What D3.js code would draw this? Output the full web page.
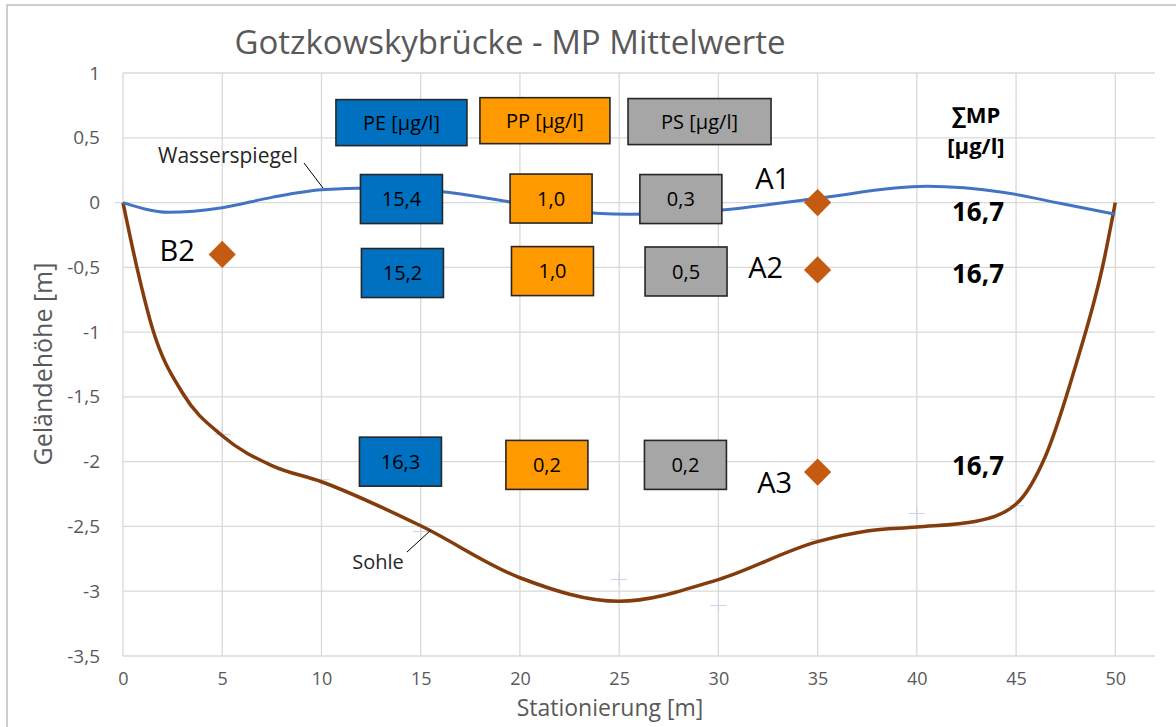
<!DOCTYPE html>
<html>
<head>
<meta charset="utf-8">
<script src="https://cdn.jsdelivr.net/npm/d3@7"></script>
<style>
  html, body { margin: 0; padding: 0; background: #fff; }
  svg { display: block; font-family: "Open Sans", "Noto Sans", sans-serif; }
</style>
</head>
<body>
<svg id="chart" width="1176" height="727"></svg>
<script>
// ---------------- data ----------------
const chartTitle = "Gotzkowskybrücke - MP Mittelwerte";
const xTicks = [0, 5, 10, 15, 20, 25, 30, 35, 40, 45, 50];
const yTicks = [1, 0.5, 0, -0.5, -1, -1.5, -2, -2.5, -3, -3.5];

// Wasserspiegel (water surface) [station m, height m]
const wasserspiegel = [
  [0, 0], [2.3, -0.075], [5, -0.04], [7.5, 0.04], [10, 0.098], [12.5, 0.113],
  [16, 0.085], [19.5, 0.005], [22, -0.055], [25.5, -0.09], [30.2, -0.057],
  [35, 0.034], [40.5, 0.125], [44.4, 0.078], [47.2, -0.005], [50, -0.09]
];
// Sohle (river bed)
const sohle = [
  [0, 0], [0.7, -0.5], [1.5, -0.98], [3, -1.47], [5, -1.8], [7.5, -2.03],
  [10, -2.155], [15, -2.495], [20, -2.896], [25, -3.078], [30, -2.91],
  [35, -2.617], [37.5, -2.535], [40, -2.505], [43, -2.46], [45, -2.327], [46.5, -1.95],
  [48, -1.26], [49.4, -0.466], [50, 0]
];
// faint cross markers
const crossX = [5, 10, 15, 25, 30, 35, 40, 45];
const crossY = [-1.79, -2.14, -2.54, -2.91, -3.11, -2.6, -2.4, -2.34];

// sampling points
const pointNames = ["B2", "A1", "A2", "A3"];
const pointX = [5, 35, 35, 35];
const pointY = [-0.4, 0, -0.52, -2.08];

// MP concentrations per depth (A1, A2, A3)
const polymers = ["PE", "PP", "PS"];
const peValues = [15.4, 15.2, 16.3];
const ppValues = [1.0, 1.0, 0.2];
const psValues = [0.3, 0.5, 0.2];
const sumValues = [16.7, 16.7, 16.7];

// ---------------- layout ----------------
const W = 1176, H = 727;
const svg = d3.select("#chart");
const x = d3.scaleLinear().domain([0, 52]).range([123, 1155]);
const y = d3.scaleLinear().domain([-3.5, 1]).range([656, 73]);
const fmt = v => String(v).replace(".", ",");
const fmt1 = v => v.toFixed(1).replace(".", ",");

const colors = { PE: "#0070C0", PP: "#FF9900", PS: "#A6A6A6" };

// frame
svg.append("rect").attr("x", 7).attr("y", 5).attr("width", W).attr("height", H)
  .attr("fill", "none").attr("stroke", "#BFBFBF").attr("stroke-width", 1.5);

// gridlines
const grid = svg.append("g");
grid.selectAll("line.h").data(yTicks).join("line")
  .attr("x1", x(0)).attr("x2", x(52))
  .attr("y1", d => y(d)).attr("y2", d => y(d))
  .attr("stroke", "#D9D9D9").attr("stroke-width", 1.3);
grid.selectAll("line.v").data(xTicks).join("line")
  .attr("x1", d => x(d)).attr("x2", d => x(d))
  .attr("y1", y(1)).attr("y2", y(-3.5))
  .attr("stroke", "#D9D9D9").attr("stroke-width", 1.3);
svg.append("line").attr("x1", x(0) - 8).attr("x2", x(0)).attr("y1", y(0)).attr("y2", y(0))
  .attr("stroke", "#D9D9D9").attr("stroke-width", 1.3);

// axes (labels only)
const yAxis = d3.axisLeft(y).tickValues(yTicks).tickFormat(fmt).tickSize(0).tickPadding(23);
const gy = svg.append("g").attr("transform", `translate(${x(0)},0)`).call(yAxis);
gy.select(".domain").remove();
gy.selectAll("text").attr("font-size", 19).attr("fill", "#595959")
  .attr("font-family", "'Open Sans', sans-serif");

const xAxis = d3.axisBottom(x).tickValues(xTicks).tickFormat(fmt).tickSize(0).tickPadding(16);
const gx = svg.append("g").attr("transform", `translate(0,${y(-3.5)})`).call(xAxis);
gx.select(".domain").remove();
gx.selectAll("text").attr("font-size", 18).attr("fill", "#595959")
  .attr("font-family", "'Open Sans', sans-serif");

// axis titles
svg.append("text").attr("x", 610).attr("y", 716).attr("text-anchor", "middle")
  .attr("font-size", 23).attr("fill", "#595959").text("Stationierung [m]");
svg.append("text").attr("transform", "translate(52,364) rotate(-90)").attr("text-anchor", "middle")
  .attr("font-size", 25).attr("fill", "#595959").text("Geländehöhe [m]");

// title
svg.append("text").attr("x", 510).attr("y", 54).attr("text-anchor", "middle")
  .attr("font-size", 33).attr("fill", "#595959").text(chartTitle);

// faint crosses
const cross = svg.append("g").attr("stroke", "#CDD1E8").attr("stroke-width", 1);
crossX.forEach((cx, i) => {
  cross.append("line").attr("x1", x(cx) - 8).attr("x2", x(cx) + 8)
    .attr("y1", y(crossY[i])).attr("y2", y(crossY[i]));
  cross.append("line").attr("x1", x(cx)).attr("x2", x(cx))
    .attr("y1", y(crossY[i]) - 7).attr("y2", y(crossY[i]) + 7);
});

// lines
const line = d3.line().x(d => x(d[0])).y(d => y(d[1])).curve(d3.curveMonotoneX);
svg.append("path").datum(sohle).attr("d", line)
  .attr("fill", "none").attr("stroke", "#843C0C").attr("stroke-width", 3.5);
svg.append("path").datum(wasserspiegel).attr("d", line)
  .attr("fill", "none").attr("stroke", "#4472C4").attr("stroke-width", 3);

// line labels with leader lines
svg.append("line").attr("x1", 304).attr("y1", 163).attr("x2", 323).attr("y2", 188)
  .attr("stroke", "#000").attr("stroke-width", 1);
svg.append("text").attr("x", 228).attr("y", 163).attr("text-anchor", "middle")
  .attr("font-size", 21).attr("fill", "#262626").text("Wasserspiegel");
svg.append("line").attr("x1", 407).attr("y1", 552).attr("x2", 431).attr("y2", 530)
  .attr("stroke", "#000").attr("stroke-width", 1);
svg.append("text").attr("x", 378).attr("y", 569).attr("text-anchor", "middle")
  .attr("font-size", 20).attr("fill", "#262626").text("Sohle");

// diamonds
const diamond = d3.symbol().type(d3.symbolSquare).size(370);
pointNames.forEach((n, i) => {
  svg.append("path").attr("d", diamond)
    .attr("transform", `translate(${x(pointX[i])},${y(pointY[i])}) rotate(45)`)
    .attr("fill", "#C55A11");
});
// point labels (px offsets from marker)
const labelOffsets = { B2: [-45, 7], A1: [-45, -14], A2: [-52, 8], A3: [-43, 21] };
pointNames.forEach((n, i) => {
  const o = labelOffsets[n];
  svg.append("text").attr("x", x(pointX[i]) + o[0]).attr("y", y(pointY[i]) + o[1])
    .attr("text-anchor", "middle").attr("font-size", 29).attr("fill", "#000").text(n);
});

// boxes: header + rows (layout, data units)
const headerBoxes = [
  { key: "PE", cx: 14.03, cy: 0.617, w: 131, h: 46 },
  { key: "PP", cx: 21.26, cy: 0.632, w: 130, h: 46 },
  { key: "PS", cx: 29.05, cy: 0.625, w: 143, h: 46 }
];
const boxRows = [
  { cy: [0.027, 0.031, 0.027], cx: [14.03, 21.57, 28.11] },
  { cy: [-0.544, -0.529, -0.532], cx: [14.08, 21.64, 28.37] },
  { cy: [-2.0, -2.025, -2.025], cx: [13.98, 21.36, 28.34] }
];
const valuesByPolymer = { PE: peValues, PP: ppValues, PS: psValues };

function box(cx, cy, w, h, fill, label) {
  const g = svg.append("g").attr("transform", `translate(${x(cx)},${y(cy)})`);
  g.append("rect").attr("x", -w / 2).attr("y", -h / 2).attr("width", w).attr("height", h)
    .attr("fill", fill).attr("stroke", "#262626").attr("stroke-width", 1.6);
  g.append("text").attr("text-anchor", "middle").attr("dy", "0.36em")
    .attr("font-size", 20).attr("fill", "#000").text(label);
}
headerBoxes.forEach(b => box(b.cx, b.cy, b.w, b.h, colors[b.key], b.key + " [µg/l]"));
boxRows.forEach((r, ri) => {
  polymers.forEach((p, pi) => {
    box(r.cx[pi], r.cy[pi], 82, 49, colors[p], fmt1(valuesByPolymer[p][ri]));
  });
});

// sum column
svg.append("text").attr("x", 976).attr("y", 123).attr("text-anchor", "middle")
  .attr("font-size", 22).attr("font-weight", "bold").attr("fill", "#000").text("∑MP");
svg.append("text").attr("x", 976).attr("y", 154).attr("text-anchor", "middle")
  .attr("font-size", 22).attr("font-weight", "bold").attr("fill", "#000").text("[µg/l]");
const sumY = [-0.12, -0.6, -2.08];
sumValues.forEach((v, i) => {
  svg.append("text").attr("x", 978).attr("y", y(sumY[i]) + 3).attr("text-anchor", "middle")
    .attr("font-size", 26).attr("font-weight", "bold").attr("fill", "#000").text(fmt1(v));
});
</script>
</body>
</html>
